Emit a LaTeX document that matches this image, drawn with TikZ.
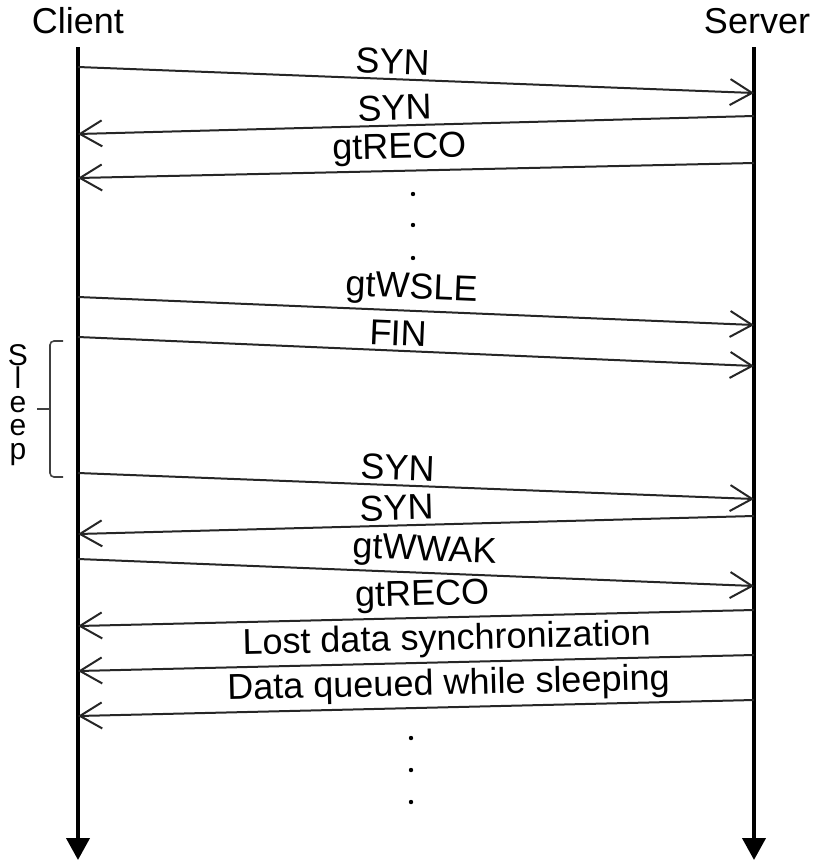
\documentclass[tikz,border=0pt]{standalone}
\usepackage{fontspec}
\setmainfont{Liberation Sans}
\usetikzlibrary{arrows.meta}

\begin{document}
\begin{tikzpicture}[x=0.5pt, y=-0.5pt,
  lifeline/.style={line width=2pt, -{Triangle[length=11pt,width=11.5pt]}},
  msg/.style={draw=black!85, line width=1pt, -{Straight Barb[length=11pt,width=13pt]}},
  lbl/.style={sloped, above, inner sep=2pt, font=\fontsize{18}{20}\selectfont},
  head/.style={anchor=base, font=\fontsize{18}{20}\selectfont},
  bracket/.style={draw=black!75, line width=0.8pt, rounded corners=2pt}]
  \useasboundingbox (0,0) rectangle (817,867);
  % lifelines
  \coordinate (cl) at (78,47);
  \coordinate (sv) at (754,47);
  \coordinate (clend) at (78,860);
  \coordinate (svend) at (754,860);
  \node[head] (client) at (78,33) {Client};
  \node[head] (server) at (757,33) {Server};
  \draw[lifeline] (cl) -- (clend);
  \draw[lifeline] (sv) -- (svend);
  % first connection
  \draw[msg] (cl |- 0,67) -- node[lbl, pos=0.465] (m1) {SYN} (sv |- 0,93);
  \draw[msg] (sv |- 0,116) -- node[lbl, pos=0.531] (m2) {SYN} (cl |- 0,134);
  \draw[msg] (sv |- 0,163) -- node[lbl, pos=0.524] (m3) {gtRECO} (cl |- 0,178);
  \fill (413,194) circle (2.2);
  \fill (413,225) circle (2.2);
  \fill (413,258) circle (2.2);
  \draw[msg] (cl |- 0,297) -- node[lbl, pos=0.493] (m4) {gtWSLE} (sv |- 0,325);
  \draw[msg] (cl |- 0,337) -- node[lbl, pos=0.473] (m5) {FIN} (sv |- 0,366);
  % sleep period
  \draw[bracket] (63,341) -- (50,341) -- (50,477) -- (63,477);
  \draw[bracket] (37,409) -- (50,409);
  \node[align=center, font=\fontsize{15}{11.8}\selectfont] (sleep) at (18,405) {S\\l\\e\\e\\p};
  % wake up
  \draw[msg] (cl |- 0,473) -- node[lbl, pos=0.472] (m6) {SYN} (sv |- 0,499);
  \draw[msg] (sv |- 0,516) -- node[lbl, pos=0.528] (m7) {SYN} (cl |- 0,534);
  \draw[msg] (cl |- 0,559) -- node[lbl, pos=0.512] (m8) {gtWWAK} (sv |- 0,586);
  \draw[msg] (sv |- 0,610) -- node[lbl, pos=0.49] (m9) {gtRECO} (cl |- 0,626);
  \draw[msg] (sv |- 0,655) -- node[lbl, pos=0.454] (m10) {Lost data synchronization} (cl |- 0,671);
  \draw[msg] (sv |- 0,700) -- node[lbl, pos=0.451] (m11) {Data queued while sleeping} (cl |- 0,716);
  \fill (411,738) circle (2.2);
  \fill (411,770) circle (2.2);
  \fill (411,802) circle (2.2);
\end{tikzpicture}
\end{document}
